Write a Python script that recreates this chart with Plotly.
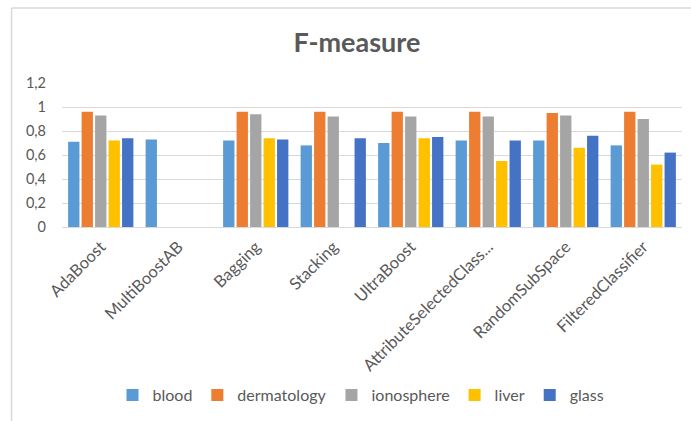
import plotly.graph_objects as go

categories = ["AdaBoost", "MultiBoostAB", "Bagging", "Stacking", "UltraBoost",
              "AttributeSelectedClass...", "RandomSubSpace", "FilteredClassifier"]

blood = [0.71, 0.73, 0.72, 0.68, 0.70, 0.72, 0.72, 0.68]
dermatology = [0.96, 0, 0.96, 0.96, 0.96, 0.96, 0.95, 0.96]
ionosphere = [0.93, 0, 0.94, 0.92, 0.92, 0.92, 0.93, 0.90]
liver = [0.72, 0, 0.74, 0, 0.74, 0.55, 0.66, 0.52]
glass = [0.74, 0, 0.73, 0.74, 0.75, 0.72, 0.76, 0.62]

series = [
    ("blood", blood, "#5B9BD5"),
    ("dermatology", dermatology, "#ED7D31"),
    ("ionosphere", ionosphere, "#A5A5A5"),
    ("liver", liver, "#FFC000"),
    ("glass", glass, "#4472C4"),
]

W, H = 691, 421
L, R, T, B = 62, 9, 83, 194

fig = go.Figure()
for name, vals, color in series:
    fig.add_trace(go.Bar(name=name, x=categories, y=vals,
                         marker=dict(color=color, line=dict(width=0))))

# chart frame: left and top edges
pw, ph = W - L - R, H - T - B
def px_x(x):
    return (x - L) / pw
def px_y(y):
    return (H - B - y) / ph

frame = dict(color="#D9D9D9", width=1.5)
fig.add_shape(type="line", xref="paper", yref="paper",
              x0=px_x(11.5), x1=px_x(11.5), y0=px_y(8), y1=px_y(H + 2), line=frame)
fig.add_shape(type="line", xref="paper", yref="paper",
              x0=px_x(11.5), x1=px_x(W + 2), y0=px_y(8), y1=px_y(8), line=frame)

fig.update_layout(
    width=W, height=H,
    margin=dict(l=L, r=R, t=T, b=B, autoexpand=False),
    paper_bgcolor="white", plot_bgcolor="white",
    separators=", ",
    font=dict(family="Lato", color="#595959", size=15),
    title=dict(text="<b>F-measure</b>", x=357 / W, xref="container", xanchor="center",
               y=1 - 43 / H, yanchor="middle",
               font=dict(family="Lato", size=27, color="#595959")),
    barmode="group", bargap=0.13, bargroupgap=0.16,
    showlegend=True,
    legend=dict(orientation="h", xref="container", yref="container",
                x=361 / W, xanchor="center", y=1 - 395 / H, yanchor="middle",
                font=dict(size=16, color="#595959"), itemwidth=30,
                traceorder="normal"),
)
fig.update_xaxes(tickangle=-45, showline=False, showgrid=False, ticks="",
                 automargin=False, ticklabelstandoff=6,
                 tickfont=dict(size=16.5, color="#595959"))
fig.update_yaxes(range=[0, 1.2], dtick=0.2, showgrid=True, gridcolor="#D9D9D9",
                 gridwidth=1, zeroline=True, zerolinecolor="#D9D9D9", zerolinewidth=1,
                 showline=False, ticks="", automargin=False, ticklabelstandoff=15,
                 tickfont=dict(size=14.5, color="#595959"))

fig.write_html("out.html")
